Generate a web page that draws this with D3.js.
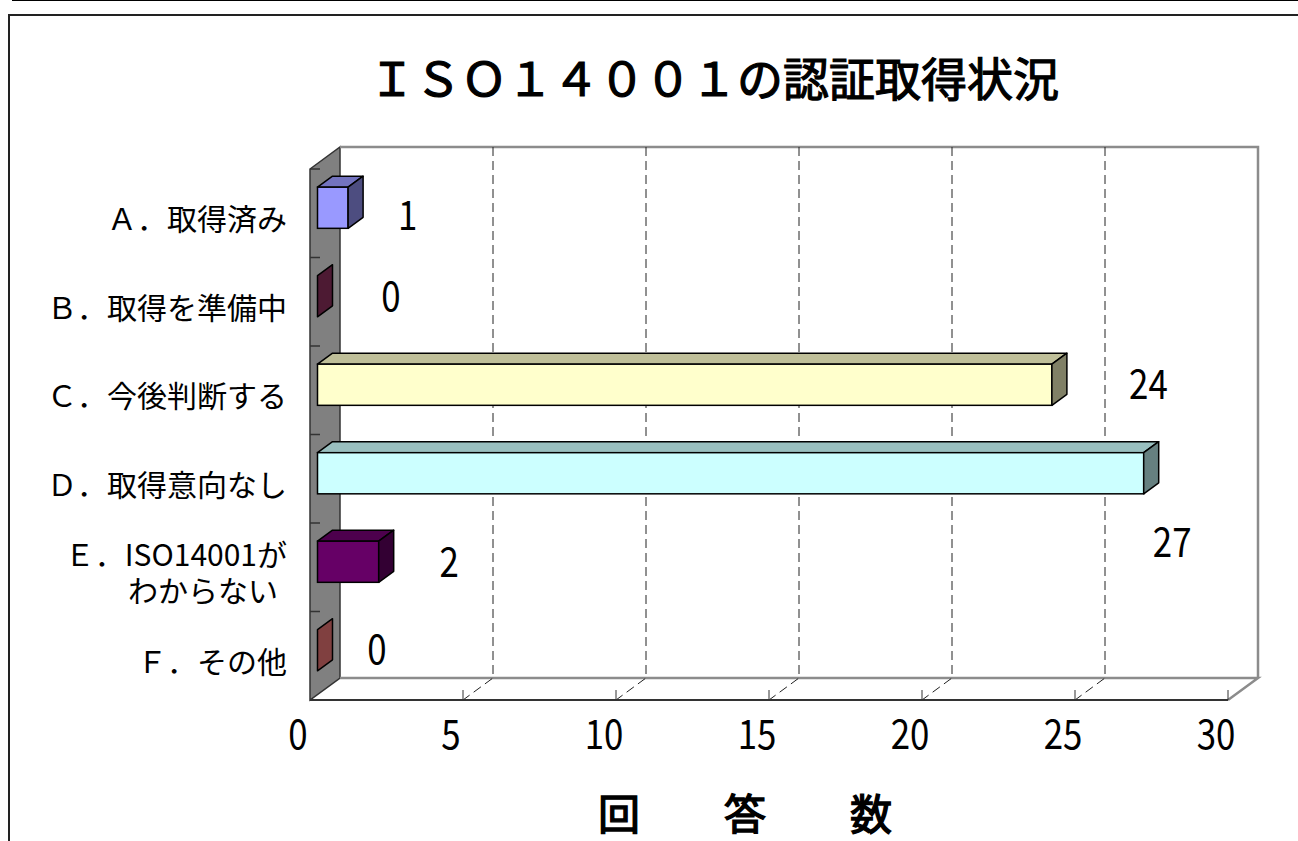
<!DOCTYPE html>
<html>
<head>
<meta charset="utf-8">
<script src="https://cdn.jsdelivr.net/npm/d3@7"></script>
<style>
  body { margin: 0; background: #fff; }
  svg text { font-family: "Noto Sans CJK JP", sans-serif; fill: #000; }
</style>
</head>
<body>
<svg id="chart" width="1298" height="841"></svg>
<script>
/* chart data */
let categories = ['Ａ．取得済み', 'Ｂ．取得を準備中', 'Ｃ．今後判断する', 'Ｄ．取得意向なし', 'Ｅ．ISO14001が\nわからない', 'Ｆ．その他'];
let values = [1, 0, 24, 27, 2, 0];
let barColors = ['#9999FF', '#993366', '#FFFFCC', '#CCFFFF', '#660066', '#FF8080'];
let tickValues = [0, 5, 10, 15, 20, 25, 30];
let title = 'ＩＳＯ１４００１の認証取得状況';
let axisTitle = '回　　答　　数';

/* where the value labels sit relative to the bar end (pixels) */
let labelDx = [67, 81, 104, 36, 78, 67];
let labelDy = [-1, -9, -9, 60, -8, -10];

let svg = d3.select('#chart');

/* outer frame lines */
svg.append('line').attr('x1', 12).attr('x2', 1298).attr('y1', 0.5).attr('y2', 0.5)
    .attr('stroke', '#000').attr('stroke-width', 1);
svg.append('path').attr('d', 'M9,841V15H1298')
    .attr('fill', 'none').attr('stroke', '#222').attr('stroke-width', 2);

/* scales: front plane of the 3D box */
let x = d3.scaleLinear().domain([0, 30]).range([310, 1228]);
let y = d3.scaleBand().domain(categories).range([169, 700]);
let DX = 30, DY = -22;          // depth of the box
let top0 = y.range()[0], bot0 = y.range()[1];
let xb = v => x(v) + DX;         // back plane x
let barH = y.bandwidth() * 0.465;

/* left side wall */
svg.append('path')
    .attr('d', `M${x(0)},${top0}L${xb(0)},${top0 + DY}L${xb(0)},${bot0 + DY}L${x(0)},${bot0}Z`)
    .attr('fill', '#808080').attr('stroke', '#333').attr('stroke-width', 1.5);

/* back wall edges */
svg.append('path')
    .attr('d', `M${xb(0)},${top0 + DY}H${xb(30)}V${bot0 + DY}`)
    .attr('fill', 'none').attr('stroke', '#8c8c8c').attr('stroke-width', 2.5);
/* floor */
svg.append('path')
    .attr('d', `M${xb(0)},${bot0 + DY}H${xb(30)}L${x(30)},${bot0}`)
    .attr('fill', 'none').attr('stroke', '#8c8c8c').attr('stroke-width', 2.5);

/* dashed gridlines on back wall and floor */
let grid = tickValues.filter(v => v > 0 && v < 30);
svg.selectAll('.grid').data(grid).enter().append('path')
    .attr('class', 'grid')
    .attr('d', v => `M${xb(v)},${top0 + DY}V${bot0 + DY}L${x(v)},${bot0}`)
    .attr('fill', 'none').attr('stroke', '#222').attr('stroke-width', 1)
    .attr('stroke-dasharray', '9,5');

/* front axis line and ticks */
svg.append('line').attr('x1', x(0)).attr('x2', x(30)).attr('y1', bot0).attr('y2', bot0)
    .attr('stroke', '#333').attr('stroke-width', 2);
svg.selectAll('.xtick').data(tickValues.filter(v => v > 0)).enter().append('line')
    .attr('x1', v => x(v)).attr('x2', v => x(v))
    .attr('y1', bot0 - 10).attr('y2', bot0)
    .attr('stroke', '#333').attr('stroke-width', 1);

/* category ticks on the side wall */
svg.selectAll('.ytick').data(categories).enter().append('line')
    .attr('x1', x(0)).attr('x2', x(0) + 10)
    .attr('y1', d => y(d)).attr('y2', d => y(d))
    .attr('stroke', '#333').attr('stroke-width', 1.5);

/* 3D bars: top face 75%, end face 50% of the front colour */
let shade = (c, k) => {
    let r = d3.rgb(c);
    return d3.rgb(r.r * k, r.g * k, r.b * k);
};
let fx = DX * 0.25, fy = DY * 0.25, bx = DX * 0.5, by = DY * 0.5;

let bars = svg.selectAll('.bar').data(categories).enter().append('g').attr('class', 'bar');
bars.each(function(c, i) {
    let g = d3.select(this);
    let cy = y(c) + y.bandwidth() / 2 + fy;
    let x0 = x(0) + fx, x1 = x(values[i]) + fx;
    let t = cy - barH / 2, b = cy + barH / 2;
    let col = barColors[i];
    if (values[i] > 0) {
        g.append('path')
            .attr('d', `M${x0},${t}L${x1},${t}L${x1 + bx},${t + by}L${x0 + bx},${t + by}Z`)
            .attr('fill', shade(col, 0.75)).attr('stroke', '#000').attr('stroke-width', 1.5)
            .attr('stroke-linejoin', 'round');
        g.append('rect')
            .attr('x', x0).attr('y', t).attr('width', x1 - x0).attr('height', barH)
            .attr('fill', col).attr('stroke', '#000').attr('stroke-width', 1.5);
    }
    g.append('path')
        .attr('d', `M${x1},${t}L${x1 + bx},${t + by}L${x1 + bx},${b + by}L${x1},${b}Z`)
        .attr('fill', shade(col, 0.5)).attr('stroke', '#000').attr('stroke-width', 1.5)
        .attr('stroke-linejoin', 'round');
});

/* value labels */
svg.selectAll('.val').data(categories).enter().append('text')
    .attr('class', 'val')
    .attr('transform', (c, i) => `translate(${x(values[i]) + labelDx[i]},${y(c) + y.bandwidth() / 2 + labelDy[i]}) scale(0.85,1)`)
    .attr('text-anchor', 'middle').attr('dominant-baseline', 'central')
    .style('font-size', '41px')
    .text((c, i) => values[i]);

/* tick labels */
svg.selectAll('.tlab').data(tickValues).enter().append('text')
    .attr('class', 'tlab')
    .attr('transform', v => `translate(${x(v) - 12},${731}) scale(0.85,1)`)
    .attr('text-anchor', 'middle').attr('dominant-baseline', 'central')
    .style('font-size', '41px')
    .text(v => v);

/* category labels */
svg.selectAll('.cat').data(categories).enter().append('text')
    .attr('class', 'cat')
    .attr('text-anchor', 'end')
    .style('font-size', '30px')
    .each(function(c) {
        let lines = c.split('\n');
        let cy = y(c) + y.bandwidth() / 2 + 4;
        let el = d3.select(this);
        lines.forEach((ln, k) => {
            el.append('tspan')
                .attr('x', k === 0 ? 287 : 278)
                .attr('y', cy + (k - (lines.length - 1) / 2) * 36)
                .attr('dominant-baseline', 'central')
                .text(ln);
        });
    });

/* title and axis title: regular weight thickened a little with a stroke */
svg.append('text')
    .attr('x', 714).attr('y', 76)
    .attr('text-anchor', 'middle').attr('dominant-baseline', 'central')
    .style('font-size', '46px')
    .attr('stroke', '#000').attr('stroke-width', 1.2)
    .text(title);

svg.append('text')
    .attr('x', 745).attr('y', 811)
    .attr('text-anchor', 'middle').attr('dominant-baseline', 'central')
    .style('font-size', '42px')
    .attr('stroke', '#000').attr('stroke-width', 1.4)
    .text(axisTitle);
</script>
</body>
</html>
